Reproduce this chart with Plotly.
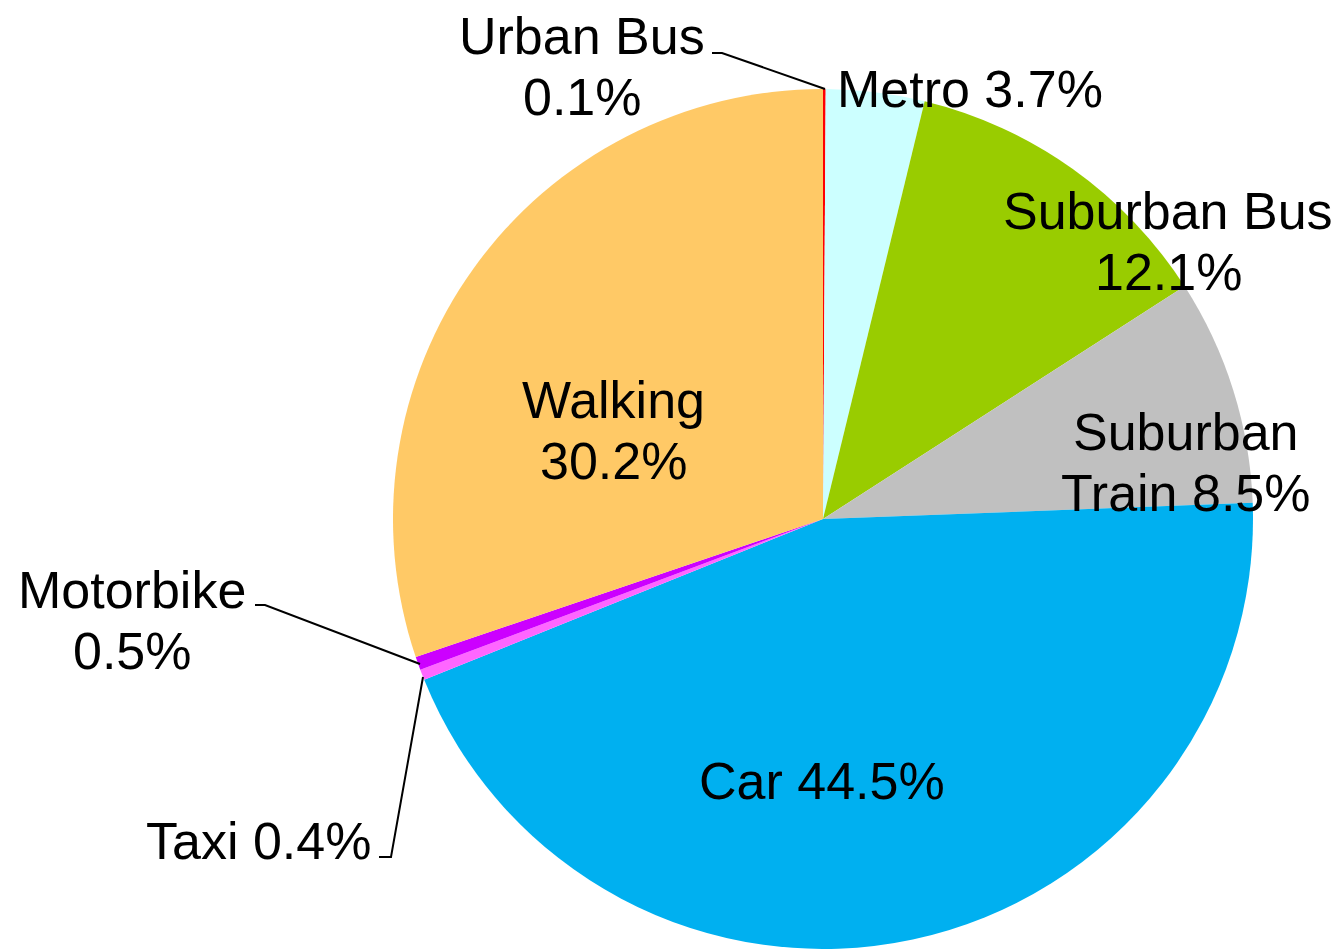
import plotly.graph_objects as go

modes = ['Urban Bus', 'Metro', 'Suburban Bus', 'Suburban Train', 'Car', 'Taxi', 'Motorbike', 'Walking']
shares = [0.1, 3.7, 12.1, 8.5, 44.5, 0.4, 0.5, 30.2]
colors = ['#FF0000', '#CCFFFF', '#99CC00', '#C0C0C0', '#00B0F0', '#FF66FF', '#CC00FF', '#FFC966']

W, H = 1342, 949

# label placement in pixels: centre x, first line y, how the text breaks
label_pos = {
    'Urban Bus':      (582, 36, 'two'),
    'Metro':          (970, 89, 'one'),
    'Suburban Bus':   (1168, 211, 'two'),
    'Suburban Train': (1186, 432, 'split'),
    'Car':            (822, 781, 'one'),
    'Taxi':           (258, 841, 'one'),
    'Motorbike':      (132, 590, 'two'),
    'Walking':        (613, 400, 'two'),
}
LINE_GAP = 61

# leader lines for the tiny slices (pixel coords)
leaders = [
    [(712, 53), (722, 53), (825, 89)],
    [(255, 605), (265, 605), (420, 664)],
    [(379, 857), (391, 857), (423, 677)],
]


def px(x):
    return x / W


def py(y):
    return 1 - y / H


fig = go.Figure(go.Pie(
    labels=modes,
    values=shares,
    marker=dict(colors=colors, line=dict(width=0)),
    sort=False,
    direction='clockwise',
    rotation=0,
    textinfo='none',
    hoverinfo='label+percent',
    domain=dict(x=[393 / W, 1253 / W], y=[0, 860 / H]),
    showlegend=False,
))

font = dict(family='Liberation Sans, Arial, sans-serif', size=52, color='black')
for mode, val in zip(modes, shares):
    cx, cy, kind = label_pos[mode]
    pct = f'{val:.1f}%'
    if kind == 'one':
        lines = [f'{mode} {pct}']
    elif kind == 'two':
        lines = [mode, pct]
    else:
        first, rest = mode.split(' ', 1)
        lines = [first, f'{rest} {pct}']
    for i, txt in enumerate(lines):
        fig.add_annotation(x=px(cx), y=py(cy + i * LINE_GAP), xref='paper', yref='paper',
                           text=txt, showarrow=False, font=font,
                           xanchor='center', yanchor='middle')

for pts in leaders:
    path = 'M ' + ' L '.join(f'{px(x)} {py(y)}' for x, y in pts)
    fig.add_shape(type='path', path=path, xref='paper', yref='paper',
                  line=dict(color='black', width=2))

fig.update_layout(width=W, height=H, margin=dict(l=0, r=0, t=0, b=0),
                  paper_bgcolor='white', plot_bgcolor='white')
fig.write_html('out.html', config={'displayModeBar': False},
               post_script="document.body.style.margin='0';")
